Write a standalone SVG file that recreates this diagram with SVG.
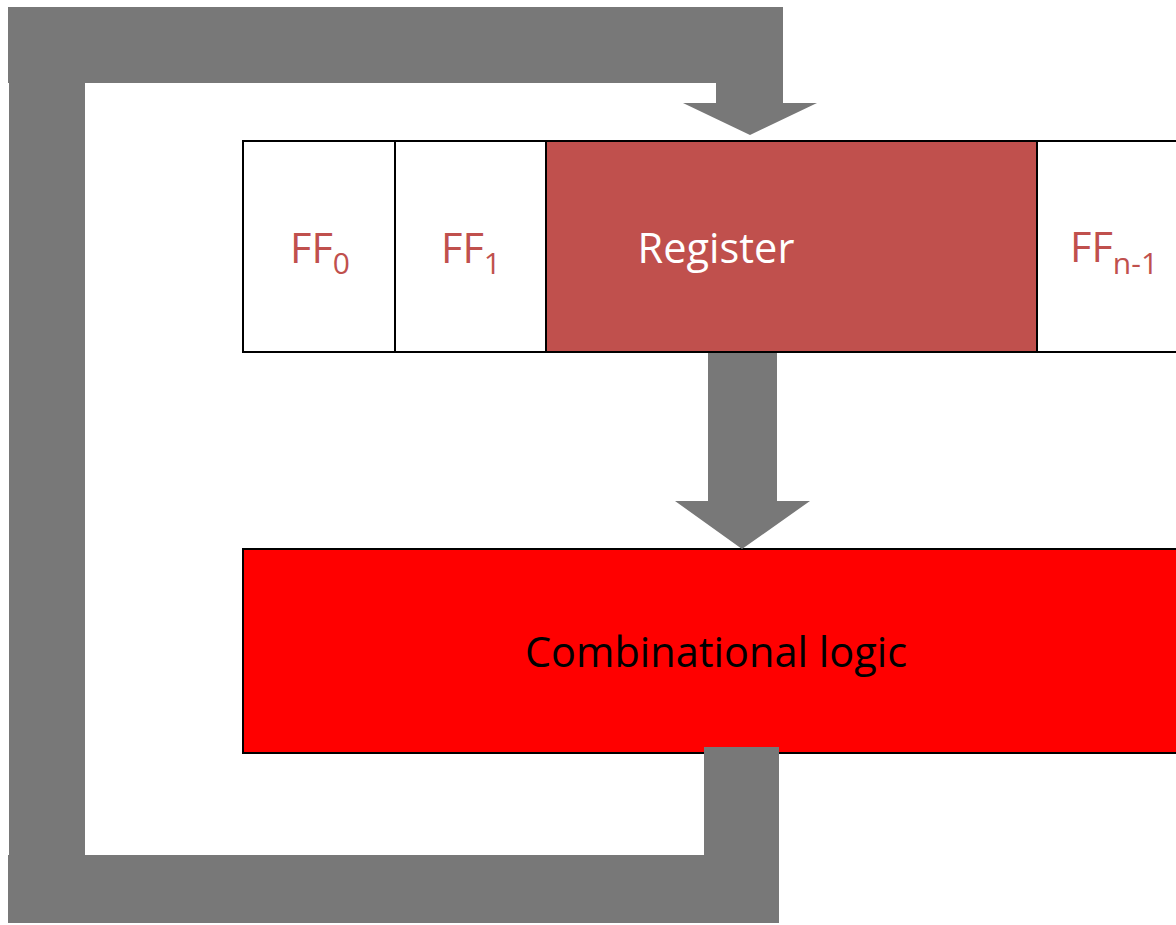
<svg xmlns="http://www.w3.org/2000/svg" width="1176" height="925" viewBox="0 0 1176 925">
<style>
.cell{fill:#ffffff;stroke:#000000;stroke-width:2}
.reg{fill:#C0504D;stroke:#000000;stroke-width:2}
.comb{fill:#FF0000;stroke:#000000;stroke-width:2}
.pipe{fill:#787878;stroke:none}
.lbl{font-family:"Open Sans","Liberation Sans",sans-serif;font-size:41.5px}
.ff{fill:#C0504D}
</style>
<rect width="1176" height="925" fill="#ffffff"/>
<g id="ff0">
<rect class="cell" x="243" y="141" width="152" height="211"/>
<text class="lbl ff" x="290" y="263">FF<tspan font-size="30" dy="11">0</tspan></text>
</g>
<g id="ff1">
<rect class="cell" x="395" y="141" width="151" height="211"/>
<text class="lbl ff" x="441" y="263">FF<tspan font-size="30" dy="11">1</tspan></text>
</g>
<g id="register">
<rect class="reg" x="546" y="141" width="491" height="211"/>
<text class="lbl" x="716" y="263" text-anchor="middle" fill="#ffffff">Register</text>
</g>
<g id="ffn1">
<rect class="cell" x="1037" y="141" width="160" height="211"/>
<text class="lbl ff" x="1070" y="262">FF<tspan font-size="30" dy="12">n-1</tspan></text>
</g>
<g id="comb">
<rect class="comb" x="243" y="549" width="960" height="204"/>
<text class="lbl" x="716" y="667" text-anchor="middle" fill="#000000">Combinational logic</text>
</g>
<g id="connectors">
<rect class="pipe" x="8" y="7" width="775" height="76"/>
<polygon class="pipe" points="716,82 716,103 683,103 750,135 817,103 783,103 783,82"/>
<rect class="pipe" x="9" y="82" width="76" height="774"/>
<rect class="pipe" x="704" y="747" width="75" height="110"/>
<rect class="pipe" x="8" y="855" width="771" height="68"/>
<polygon class="pipe" points="708,353 777,353 777,501 810,501 742,549 675,501 708,501"/>
</g>
</svg>
